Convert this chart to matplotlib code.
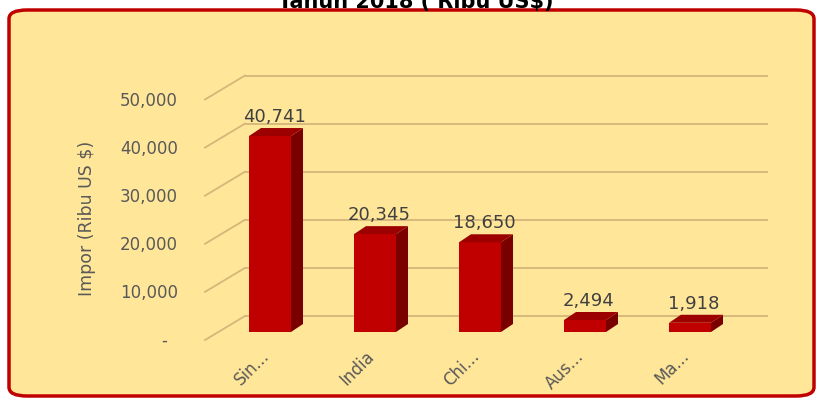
import matplotlib.pyplot as plt
from matplotlib.patches import Polygon, FancyBboxPatch

categories = ["Sin...", "India", "Chi...", "Aus...", "Ma..."]
values = [40741, 20345, 18650, 2494, 1918]
value_labels = ["40,741", "20,345", "18,650", "2,494", "1,918"]
yticks = [0, 10000, 20000, 30000, 40000, 50000]
ytick_labels = ["-", "10,000", "20,000", "30,000", "40,000", "50,000"]

bg = "#FFE699"
grid_c = "#D6B67A"
front_c = "#C00000"
side_c = "#7A0000"
top_c = "#9C0000"

fig = plt.figure(figsize=(8.19, 4.02), dpi=100)
fig.patch.set_facecolor("white")

ax = fig.add_axes([0, 0, 1, 1])
ax.set_facecolor("none")
# pixel -> data scales: 105 px per category, 0.00481 px per unit
px_x = 1 / 105
px_y = 1 / 0.00481
ax.set_xlim(-270 * px_x, (819 - 270) * px_x)
ax.set_ylim((333 - 402) * px_y, 333 * px_y)
ax.axis("off")

# rounded chart frame
frame = FancyBboxPatch((9 / 819, 5 / 402), 805 / 819, 386 / 402,
                       boxstyle="round,pad=0,rounding_size=0.022",
                       transform=fig.transFigure, facecolor=bg,
                       edgecolor="#C00000", linewidth=2.5, zorder=0,
                       clip_on=False)
ax.add_patch(frame)

# floor/wall gridlines (pseudo 3D)
front_dx, front_dy = -65 * px_x, -8 * px_y
wall_dx0, wall_dy = -25 * px_x, 16 * px_y
wall_x1 = 497 * px_x
for v, lab in zip(yticks, ytick_labels):
    ax.plot([front_dx, wall_dx0], [v + front_dy, v + wall_dy],
            color=grid_c, lw=1.3, zorder=1)
    ax.plot([wall_dx0, wall_x1], [v + wall_dy, v + wall_dy],
            color=grid_c, lw=1.3, zorder=1)
    xr = -92 * px_x if lab != "-" else -103 * px_x
    ax.text(xr, v + front_dy, lab, ha="right", va="center",
            fontsize=12, color="#595959", family="DejaVu Sans")

# 3D-ish bars
hw = 21 * px_x
ddx, ddy = 12 * px_x, 8 * px_y
for i, (v, lab, cat) in enumerate(zip(values, value_labels, categories)):
    front = Polygon([(i - hw, 0), (i + hw, 0), (i + hw, v), (i - hw, v)],
                    closed=True, facecolor=front_c, edgecolor="none", zorder=3)
    side = Polygon([(i + hw, 0), (i + hw + ddx, ddy), (i + hw + ddx, v + ddy), (i + hw, v)],
                   closed=True, facecolor=side_c, edgecolor="none", zorder=3)
    top = Polygon([(i - hw, v), (i + hw, v), (i + hw + ddx, v + ddy), (i - hw + ddx, v + ddy)],
                  closed=True, facecolor=top_c, edgecolor="none", zorder=3)
    for p in (front, side, top):
        ax.add_patch(p)
    ax.text(i + 4 * px_x, v + 20 * px_y, lab, ha="center", va="center",
            fontsize=13, color="#404040", family="DejaVu Sans", zorder=4)
    ax.text(i - 10 * px_x, -14 * px_y, cat, ha="right", va="top", rotation=45,
            rotation_mode="anchor", fontsize=12, color="#595959",
            family="DejaVu Sans")

ax.text(-183 * px_x, 333 * px_y - 218 * px_y, "Impor (Ribu US $)", rotation=90,
        ha="center", va="center", fontsize=12.5, color="#595959",
        family="DejaVu Sans")

# title cut off by the top edge, as in the source
fig.text(416 / 819, 1 - 8 / 402, "Tahun 2018 ( Ribu US$)", ha="center",
         va="baseline", fontsize=15, fontweight="bold", color="black",
         family="DejaVu Sans")

fig.savefig("out.png", dpi=100)
